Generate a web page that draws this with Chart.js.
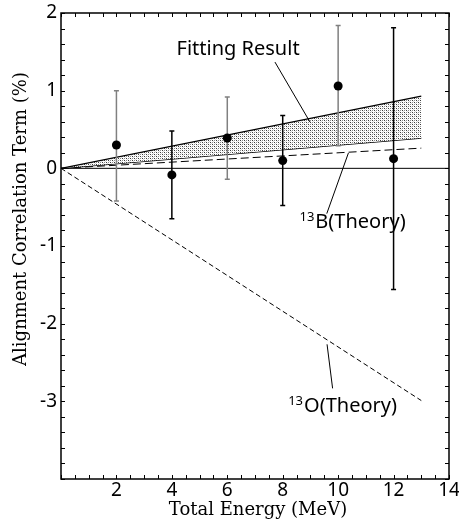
<!DOCTYPE html>
<html>
<head>
<meta charset="utf-8">
<script src="https://cdn.jsdelivr.net/npm/chart.js@4.4.0/dist/chart.umd.min.js"></script>
<style>
    html, body { margin: 0; padding: 0; background: #fff; }
</style>
</head>
<body>
<canvas id="correlacionChart" width="459" height="524"></canvas>
<script>
// Datos medidos (energía total en MeV, término de correlación en %)
const energias = [2, 4, 6, 8, 10, 12];
const valores = [0.30, -0.085, 0.39, 0.10, 1.06, 0.125];
const errorArriba = [1.00, 0.48, 0.92, 0.68, 1.84, 1.81];
const errorAbajo = [-0.42, -0.65, -0.14, -0.48, 0.29, -1.56];

// Rectas: ajuste y teorías (de 0 a 13 MeV)
const rectaX = [0, 13];
const ajusteSuperior = [0, 0.93];
const ajusteInferior = [0, 0.39];
const teoriaB = [0, 0.26];
const teoriaO = [0, -2.99];
const lineaCeroX = [0, 14];
const lineaCeroY = [0, 0];

// Etiquetas de los ejes
const etiquetasX = [2, 4, 6, 8, 10, 12, 14];
const etiquetasY = [2, 1, 0, -1, -2, -3];

function puntos(xs, ys) {
    return xs.map((x, i) => ({ x: x, y: ys[i] }));
}

// Trama punteada para la banda del ajuste
function crearTrama() {
    const c = document.createElement('canvas');
    c.width = 4;
    c.height = 4;
    const g = c.getContext('2d');
    g.fillStyle = '#ffffff';
    g.fillRect(0, 0, 4, 4);
    g.fillStyle = '#3c3c3c';
    g.fillRect(0, 0, 1, 1);
    g.fillRect(2, 2, 1, 1);
    g.fillStyle = '#8c8c8c';
    g.fillRect(2, 0, 1, 1);
    g.fillRect(0, 2, 1, 1);
    g.fillStyle = '#d8d8d8';
    g.fillRect(1, 1, 1, 1);
    g.fillRect(3, 3, 1, 1);
    return g.createPattern(c, 'repeat');
}

const coloresError = ['#808080', '#000000', '#808080', '#000000', '#808080', '#000000'];

// Anotaciones (en unidades de datos)
const anotaciones = [
    { texto: 'Fitting Result', sup: '', x: 6.39, y: 1.455, linea: [7.72, 1.368, 8.985, 0.596] },
    { texto: 'B(Theory)', sup: '13', x: 10.52, y: -0.772, linea: [10.37, 0.197, 9.59, -0.583] },
    { texto: 'O(Theory)', sup: '13', x: 10.16, y: -3.14, linea: [9.60, -2.266, 9.80, -2.833] }
];

const pluginMarco = {
    id: 'marco',
    beforeDatasetDraw(chart, args) {
        if (args.index !== 0) return;
        const ctx = chart.ctx;
        const sx = chart.scales.x;
        const sy = chart.scales.y;
        ctx.save();
        ctx.lineWidth = 1.5;
        energias.forEach((e, i) => {
            const px = sx.getPixelForValue(e);
            const y1 = sy.getPixelForValue(errorArriba[i]);
            const y2 = sy.getPixelForValue(errorAbajo[i]);
            ctx.strokeStyle = coloresError[i];
            ctx.beginPath();
            ctx.moveTo(px, y1);
            ctx.lineTo(px, y2);
            ctx.moveTo(px - 2.5, y1);
            ctx.lineTo(px + 2.5, y1);
            ctx.moveTo(px - 2.5, y2);
            ctx.lineTo(px + 2.5, y2);
            ctx.stroke();
        });
        ctx.restore();
    },
    afterDraw(chart) {
        const ctx = chart.ctx;
        const a = chart.chartArea;
        const sx = chart.scales.x;
        const sy = chart.scales.y;
        ctx.save();
        ctx.strokeStyle = '#000';
        ctx.lineWidth = 1.5;
        ctx.strokeRect(a.left, a.top, a.right - a.left, a.bottom - a.top);

        // marcas hacia adentro en los cuatro lados
        ctx.lineWidth = 1;
        ctx.beginPath();
        sx.ticks.forEach(t => {
            const px = Math.round(sx.getPixelForValue(t.value)) + 0.5;
            ctx.moveTo(px, a.bottom);
            ctx.lineTo(px, a.bottom - 4);
            ctx.moveTo(px, a.top);
            ctx.lineTo(px, a.top + 4);
        });
        sy.ticks.forEach(t => {
            const py = Math.round(sy.getPixelForValue(t.value)) + 0.5;
            ctx.moveTo(a.left, py);
            ctx.lineTo(a.left + 4, py);
            ctx.moveTo(a.right, py);
            ctx.lineTo(a.right - 4, py);
        });
        ctx.stroke();

        // anotaciones
        ctx.fillStyle = '#000';
        ctx.textBaseline = 'alphabetic';
        anotaciones.forEach(n => {
            ctx.font = '20px "Noto Sans"';
            const ancho = ctx.measureText(n.texto).width;
            ctx.font = '13px "Noto Sans"';
            const anchoSup = n.sup ? ctx.measureText(n.sup).width + 1 : 0;
            const cx = sx.getPixelForValue(n.x);
            const by = sy.getPixelForValue(n.y);
            const x0 = cx - (ancho + anchoSup) / 2;
            if (n.sup) {
                ctx.textAlign = 'left';
                ctx.fillText(n.sup, x0, by - 7);
            }
            ctx.font = '20px "Noto Sans"';
            ctx.textAlign = 'left';
            ctx.fillText(n.texto, x0 + anchoSup, by);

            ctx.lineWidth = 1;
            ctx.beginPath();
            ctx.moveTo(sx.getPixelForValue(n.linea[0]), sy.getPixelForValue(n.linea[1]));
            ctx.lineTo(sx.getPixelForValue(n.linea[2]), sy.getPixelForValue(n.linea[3]));
            ctx.stroke();
        });

        // títulos de los ejes
        ctx.font = '18px "DejaVu Serif"';
        ctx.textAlign = 'center';
        ctx.textBaseline = 'alphabetic';
        ctx.fillText('Total Energy (MeV)', (a.left + a.right) / 2 + 3, 515);
        ctx.translate(26, 219);
        ctx.rotate(-Math.PI / 2);
        ctx.fillText('Alignment Correlation Term (%)', 0, 0);
        ctx.restore();
    }
};

function esEntero(v) {
    return Math.abs(v - Math.round(v)) < 1e-6;
}

function inicializarGrafico() {
    const ctx = document.getElementById('correlacionChart');
    const trama = crearTrama();
    new Chart(ctx, {
        type: 'line',
        data: {
            datasets: [{
                label: 'Datos',
                data: puntos(energias, valores),
                showLine: false,
                pointRadius: 4.5,
                pointBackgroundColor: '#000',
                pointBorderColor: '#000',
                pointBorderWidth: 0
            }, {
                label: 'Ajuste superior',
                data: puntos(rectaX, ajusteSuperior),
                borderColor: '#000',
                borderWidth: 1.2,
                pointRadius: 0,
                backgroundColor: trama,
                fill: '+1'
            }, {
                label: 'Ajuste inferior',
                data: puntos(rectaX, ajusteInferior),
                borderColor: '#000',
                borderWidth: 1.2,
                pointRadius: 0,
                fill: false
            }, {
                label: '13B',
                data: puntos(rectaX, teoriaB),
                borderColor: '#000',
                borderWidth: 1,
                borderDash: [8, 4],
                pointRadius: 0,
                fill: false
            }, {
                label: '13O',
                data: puntos(rectaX, teoriaO),
                borderColor: '#000',
                borderWidth: 1,
                borderDash: [5, 3],
                pointRadius: 0,
                fill: false
            }, {
                label: 'Cero',
                data: puntos(lineaCeroX, lineaCeroY),
                borderColor: '#000',
                borderWidth: 1,
                pointRadius: 0,
                fill: false
            }]
        },
        options: {
            responsive: false,
            animation: false,
            layout: {
                padding: { left: 0, top: 13, right: 10, bottom: 0 }
            },
            plugins: {
                legend: { display: false },
                tooltip: { enabled: false }
            },
            scales: {
                x: {
                    type: 'linear',
                    min: 0,
                    max: 14,
                    grid: { display: false, drawTicks: false },
                    border: { display: false },
                    ticks: {
                        stepSize: 0.5,
                        autoSkip: false,
                        maxRotation: 0,
                        padding: 0,
                        color: '#000',
                        font: { family: 'Noto Sans', size: 19 },
                        callback: function(value) {
                            return (esEntero(value) && etiquetasX.includes(Math.round(value))) ? String(Math.round(value)) : '';
                        }
                    },
                    afterFit: function(scale) {
                        scale.height = 45;
                        scale.paddingLeft = 0;
                        scale.paddingRight = 0;
                    }
                },
                y: {
                    type: 'linear',
                    min: -4,
                    max: 2,
                    grid: { display: false, drawTicks: false },
                    border: { display: false },
                    ticks: {
                        stepSize: 0.2,
                        autoSkip: false,
                        padding: 4,
                        color: '#000',
                        font: { family: 'Noto Sans', size: 19 },
                        callback: function(value) {
                            return (esEntero(value) && etiquetasY.includes(Math.round(value))) ? String(Math.round(value)) : '';
                        }
                    },
                    afterFit: function(scale) {
                        scale.width = 61;
                        scale.paddingTop = 0;
                        scale.paddingBottom = 0;
                    }
                }
            }
        },
        plugins: [pluginMarco]
    });
}

inicializarGrafico();
</script>
</body>
</html>
